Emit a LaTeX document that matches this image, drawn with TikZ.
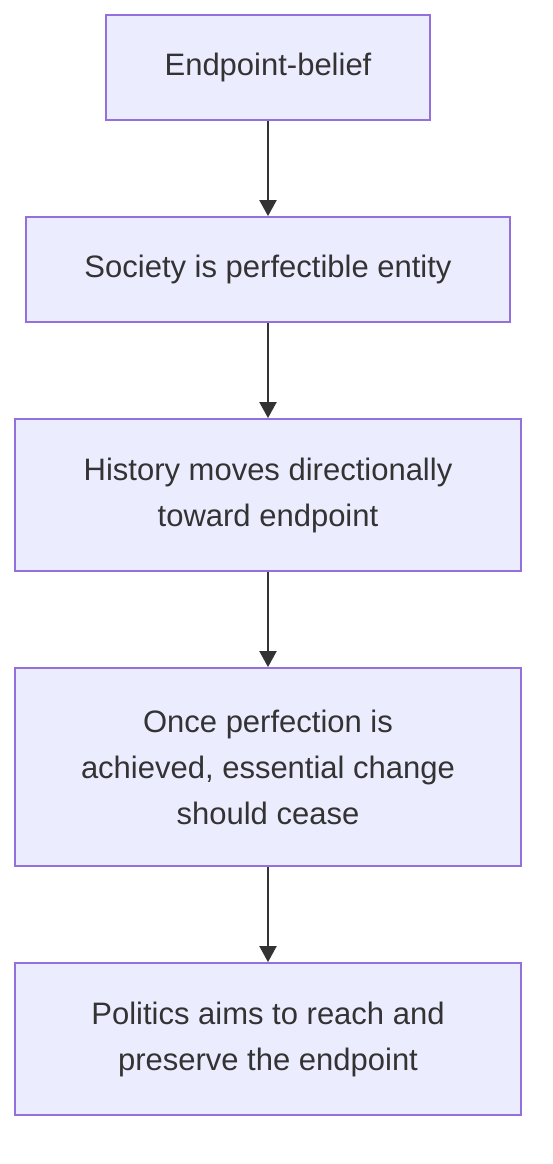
\documentclass[tikz,border=0pt]{standalone}
\usepackage{fontspec}
\setmainfont{Liberation Sans}
\usetikzlibrary{positioning,arrows.meta}
\definecolor{boxfill}{HTML}{ECECFF}
\definecolor{boxline}{HTML}{9370DB}
\definecolor{ink}{HTML}{333333}

\begin{document}
\begin{tikzpicture}[x=1pt,y=1pt,
    node distance=95.2pt,
    stepbox/.style={draw=boxline, fill=boxfill, line width=1.8pt, text=ink,
        align=center, inner sep=0pt,
        font=\fontsize{31}{46}\selectfont},
    flow/.style={draw=ink, line width=2pt, -{Triangle[length=16pt,width=17pt]}}]
\useasboundingbox (0,0) rectangle (552,-1164);
\node[stepbox, minimum width=324pt, minimum height=105pt] (belief) at (268,-67.5) {Endpoint-belief};
\node[stepbox, minimum width=484pt, minimum height=105pt, below=of belief] (society) {Society is perfectible entity};
\node[stepbox, minimum width=506pt, minimum height=152pt, below=of society] (history) {History moves directionally\\toward endpoint};
\node[stepbox, minimum width=506pt, minimum height=198pt, below=of history] (perfection) {Once perfection is\\achieved, essential change\\should cease};
\node[stepbox, minimum width=506pt, minimum height=152pt, below=of perfection] (politics) {Politics aims to reach and\\preserve the endpoint};
\draw[flow] (belief) -- (society);
\draw[flow] (society) -- (history);
\draw[flow] (history) -- (perfection);
\draw[flow] (perfection) -- (politics);
\end{tikzpicture}
\end{document}
